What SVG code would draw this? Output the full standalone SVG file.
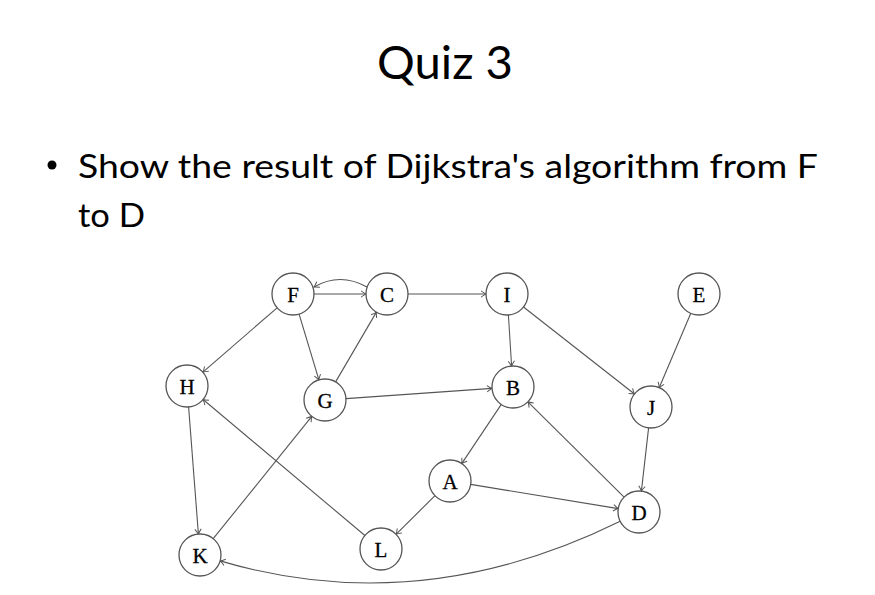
<svg xmlns="http://www.w3.org/2000/svg" width="875" height="595" viewBox="0 0 875 595">
<defs>
<marker id="arr" markerUnits="userSpaceOnUse" markerWidth="12" markerHeight="12" viewBox="-6 -6 12 12" refX="0" refY="0" orient="auto">
<path d="M -5,-3.2 Q -1.5,-0.6 0,0 Q -1.5,0.6 -5,3.2" fill="none" stroke="#555" stroke-width="1"/>
</marker>
</defs>
<style>
.title{font-family:Lato,"Open Sans",sans-serif;font-size:47px;fill:#000}
.body{font-family:Lato,"Open Sans",sans-serif;font-size:33px;fill:#000}
.node circle{fill:#fff;stroke:#555;stroke-width:1.3}
.node text{font-family:"Liberation Serif",serif;font-size:21px;fill:#000;stroke:#000;stroke-width:0.3;text-anchor:middle}
.edges path,.edges line{stroke:#555;stroke-width:1.1;fill:none;marker-end:url(#arr)}
</style>
<rect width="875" height="595" fill="#fff"/>
<text class="title" x="445" y="79" text-anchor="middle" textLength="136" lengthAdjust="spacingAndGlyphs">Quiz 3</text>
<circle cx="52" cy="165" r="4.5" fill="#000"/>
<text class="body" x="78" y="178" textLength="740" lengthAdjust="spacingAndGlyphs">Show the result of Dijkstra's algorithm from F</text>
<text class="body" x="78" y="227" textLength="67" lengthAdjust="spacingAndGlyphs">to D</text>
<g class="edges">
<line x1="314" y1="294" x2="366" y2="294"/>
<path d="M 367,287 Q 340,272 314,287"/>
<line x1="408" y1="294" x2="486" y2="294"/>
<line x1="277.1" y1="307.8" x2="202.9" y2="372.2"/>
<line x1="299.1" y1="314.1" x2="318.9" y2="379.9"/>
<line x1="335.6" y1="381.9" x2="376.4" y2="312.1"/>
<line x1="346" y1="398.6" x2="492" y2="388.4"/>
<line x1="508.4" y1="315" x2="511.6" y2="366"/>
<line x1="523.5" y1="307" x2="634.5" y2="394"/>
<line x1="690.8" y1="313.3" x2="659.2" y2="387.7"/>
<line x1="188.6" y1="406.9" x2="198.4" y2="534.1"/>
<line x1="213.2" y1="538.7" x2="311.8" y2="416.3"/>
<line x1="364.9" y1="535.5" x2="203.1" y2="399.5"/>
<line x1="501.3" y1="404.4" x2="461.7" y2="463.6"/>
<line x1="435" y1="495.7" x2="396" y2="534.3"/>
<line x1="470.7" y1="484.4" x2="618.3" y2="508.6"/>
<line x1="624.1" y1="497.2" x2="527.9" y2="401.8"/>
<line x1="648.6" y1="427.9" x2="641.4" y2="491.1"/>
<path d="M 620.2,521.3 Q 420,620 220.1,560.9"/>
</g>
<g id="node-F" class="node"><circle cx="293" cy="294" r="21"/><text x="293" y="301.5">F</text></g>
<g id="node-C" class="node"><circle cx="387" cy="294" r="21"/><text x="387" y="301.5">C</text></g>
<g id="node-I" class="node"><circle cx="507" cy="294" r="21"/><text x="507" y="301.5">I</text></g>
<g id="node-E" class="node"><circle cx="699" cy="294" r="21"/><text x="699" y="301.5">E</text></g>
<g id="node-H" class="node"><circle cx="187" cy="386" r="21"/><text x="187" y="393.5">H</text></g>
<g id="node-G" class="node"><circle cx="325" cy="400" r="21"/><text x="325" y="407.5">G</text></g>
<g id="node-B" class="node"><circle cx="513" cy="387" r="21"/><text x="513" y="394.5">B</text></g>
<g id="node-J" class="node"><circle cx="651" cy="407" r="21"/><text x="651" y="414.5">J</text></g>
<g id="node-A" class="node"><circle cx="450" cy="481" r="21"/><text x="450" y="488.5">A</text></g>
<g id="node-D" class="node"><circle cx="639" cy="512" r="21"/><text x="639" y="519.5">D</text></g>
<g id="node-L" class="node"><circle cx="381" cy="549" r="21"/><text x="381" y="556.5">L</text></g>
<g id="node-K" class="node"><circle cx="200" cy="555" r="21"/><text x="200" y="562.5">K</text></g>
</svg>
